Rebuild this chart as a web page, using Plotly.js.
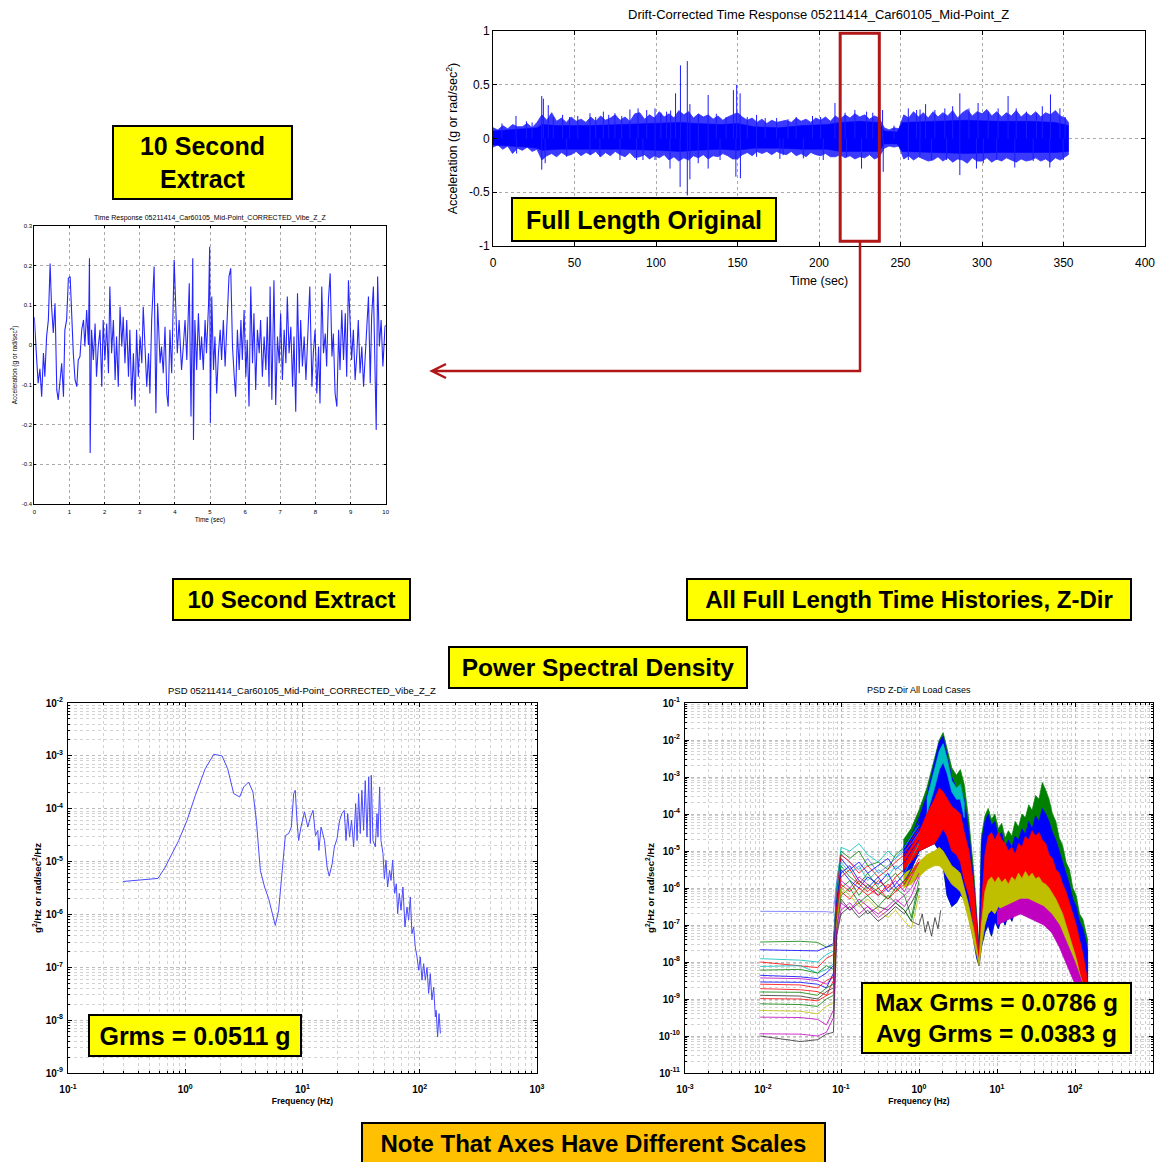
<!DOCTYPE html>
<html><head><meta charset="utf-8">
<script src="https://cdn.plot.ly/plotly-3.0.1.min.js"></script>
<style>body{margin:0;background:#fff}#chart{width:1160px;height:1162px}</style>
</head><body><div id="chart"></div>
<script>
// ---------- Full length time response (envelope) ----------
const coreT    = [0,10,20,27,30,40,60,80,100,115,125,140,150,160,175,190,205,213,225,237,240,248,251,270,290,310,330,345,353];
const coreUp   = [0.07,0.08,0.09,0.10,0.13,0.12,0.12,0.13,0.14,0.15,0.14,0.13,0.14,0.11,0.10,0.12,0.13,0.15,0.16,0.15,0.07,0.06,0.15,0.16,0.17,0.16,0.16,0.15,0.12];
const coreLo   = [-0.06,-0.07,-0.08,-0.09,-0.11,-0.10,-0.10,-0.10,-0.11,-0.12,-0.11,-0.10,-0.11,-0.09,-0.09,-0.10,-0.10,-0.12,-0.12,-0.12,-0.05,-0.05,-0.12,-0.13,-0.14,-0.13,-0.13,-0.13,-0.12];
const fringeT  = [0,3,6,9,12,15,18,21,24,27,30,33,36,39,42,45,48,51,54,57,60,63,66,69,72,75,78,81,84,87,90,93,96,99,102,105,108,111,114,117,120,123,126,129,132,135,138,141,144,147,150,153,156,159,162,165,168,171,174,177,180,183,186,189,192,195,198,201,204,207,210,213,216,219,222,225,228,231,234,237,240,243,246,249,252,255,258,261,264,267,270,273,276,279,282,285,288,291,294,297,300,303,306,309,312,315,318,321,324,327,330,333,336,339,342,345,348,351,353];
const fringeUp = [0.10,0.08,0.12,0.09,0.13,0.11,0.11,0.14,0.10,0.15,
                  0.22,0.17,0.24,0.16,0.19,0.15,0.20,0.16,0.18,0.15,
                  0.20,0.16,0.21,0.17,0.19,0.22,0.17,0.20,0.16,0.23,
                  0.24,0.18,0.22,0.19,0.25,0.20,0.23,0.19,0.26,0.22,
                  0.25,0.19,0.23,0.20,0.22,0.18,0.21,0.17,0.20,0.22,
                  0.24,0.20,0.17,0.19,0.15,0.18,0.14,0.17,0.15,0.16,
                  0.17,0.15,0.19,0.16,0.18,0.15,0.19,0.17,0.20,0.16,
                  0.21,0.18,0.22,0.19,0.23,0.20,0.22,0.18,0.21,0.19,
                  0.10,0.08,0.10,0.09,0.22,0.19,0.25,0.20,0.24,0.19,
                  0.25,0.20,0.24,0.21,0.26,0.19,0.24,0.27,0.21,0.25,
                  0.23,0.27,0.21,0.25,0.20,0.24,0.21,0.26,0.20,0.24,
                  0.21,0.25,0.20,0.24,0.22,0.26,0.21,0.19,0.15];
const fringeLo = [-0.08,-0.06,-0.10,-0.07,-0.14,-0.09,-0.11,-0.08,-0.12,-0.10,
                  -0.20,-0.16,-0.14,-0.17,-0.13,-0.16,-0.15,-0.12,-0.16,-0.13,
                  -0.15,-0.12,-0.17,-0.13,-0.16,-0.12,-0.15,-0.17,-0.13,-0.18,
                  -0.17,-0.15,-0.19,-0.16,-0.18,-0.15,-0.20,-0.17,-0.21,-0.18,
                  -0.20,-0.16,-0.18,-0.15,-0.19,-0.16,-0.17,-0.14,-0.16,-0.19,
                  -0.19,-0.15,-0.13,-0.16,-0.12,-0.14,-0.12,-0.15,-0.12,-0.14,
                  -0.15,-0.12,-0.16,-0.14,-0.17,-0.13,-0.15,-0.16,-0.14,-0.17,
                  -0.17,-0.15,-0.18,-0.16,-0.19,-0.17,-0.18,-0.15,-0.19,-0.17,
                  -0.09,-0.07,-0.08,-0.07,-0.19,-0.16,-0.20,-0.17,-0.19,-0.21,
                  -0.20,-0.17,-0.21,-0.18,-0.22,-0.19,-0.20,-0.23,-0.18,-0.21,
                  -0.21,-0.18,-0.22,-0.19,-0.21,-0.18,-0.20,-0.22,-0.19,-0.21,
                  -0.20,-0.18,-0.21,-0.19,-0.22,-0.18,-0.20,-0.17,-0.15];
const spikeUpT = [14.1,29.9,30.9,33.9,42.7,59.5,67.7,74.8,84.0,89.0,94.3,99.4,106.5,112.0,115.0,119.2,120.8,132.0,147.5,149.5,151.6,161.7,174.0,209.8,222.0,229.2,239.0,254.8,259.9,265.4,271.1,277.2,286.4,297.6,303.8,309.9,316.0,327.3,333.4,342.0,347.8];
const spikeUpV = [0.21,0.395,0.37,0.31,0.22,0.235,0.25,0.235,0.27,0.28,0.265,0.28,0.25,0.42,0.68,0.72,0.32,0.405,0.45,0.50,0.42,0.22,0.19,0.33,0.265,0.25,0.265,0.28,0.265,0.32,0.265,0.28,0.42,0.33,0.25,0.28,0.395,0.25,0.235,0.41,0.28];
const spikeDnT = [14.5,29.9,32.0,45.2,59.5,65.6,77.9,88.1,92.0,99.4,108.6,114.8,119.2,120.8,125.9,132.0,139.3,149.0,151.8,161.7,176.0,178.0,190.4,202.6,216.9,226.1,239.4,254.8,261.9,269.0,278.3,286.4,296.6,300.8,309.0,320.1,331.4,341.6,349.8];
const spikeDnV = [-0.14,-0.29,-0.23,-0.17,-0.155,-0.17,-0.2,-0.2,-0.2,-0.2,-0.28,-0.45,-0.53,-0.38,-0.23,-0.28,-0.2,-0.355,-0.37,-0.17,-0.19,-0.155,-0.185,-0.2,-0.17,-0.28,-0.31,-0.2,-0.17,-0.2,-0.2,-0.34,-0.28,-0.23,-0.2,-0.27,-0.21,-0.27,-0.2];
const smallSpikeT = [5.5,20.5,24,37,47,52,63,71,79,103,109,126,137,143,156,167,181,186,196,201,216,233,246,262,282,292,321,337,351];
const smallSpikeV = [0.14,0.16,0.15,0.20,0.20,0.21,0.20,0.22,0.21,0.24,0.26,0.22,0.23,0.20,0.20,0.19,0.18,0.20,0.21,0.20,0.24,0.24,0.12,0.27,0.30,0.28,0.28,0.30,0.20];

// ---------- 10 second extract ----------
const extT = [0.00,0.04,0.07,0.11,0.16,0.21,0.26,0.30,0.35,0.40,0.45,0.49,0.54,0.59,0.64,0.68,0.73,0.78,0.83,0.87,0.92,0.97,1.02,1.06,1.11,1.16,1.21,1.25,1.30,1.35,1.40,1.44,1.49,1.54,1.57,1.59,1.63,1.68,1.73,1.77,1.82,1.87,1.92,1.96,2.01,2.06,2.11,2.15,2.20,2.25,2.30,2.34,2.39,2.44,2.49,2.53,2.58,2.63,2.68,2.72,2.77,2.82,2.87,2.91,2.96,3.01,3.06,3.10,3.15,3.20,3.25,3.29,3.34,3.41,3.46,3.51,3.58,3.62,3.67,3.72,3.77,3.81,3.86,3.91,3.98,4.02,4.07,4.12,4.19,4.24,4.29,4.34,4.41,4.46,4.51,4.53,4.57,4.62,4.67,4.72,4.76,4.81,4.86,4.90,4.96,4.99,5.01,5.05,5.10,5.14,5.19,5.24,5.29,5.33,5.38,5.43,5.48,5.54,5.59,5.64,5.69,5.73,5.78,5.83,5.88,5.92,5.97,6.02,6.06,6.11,6.16,6.21,6.25,6.30,6.35,6.40,6.44,6.49,6.54,6.59,6.63,6.68,6.71,6.76,6.82,6.87,6.92,6.97,7.01,7.06,7.11,7.16,7.20,7.25,7.30,7.35,7.39,7.44,7.49,7.54,7.58,7.63,7.68,7.73,7.77,7.84,7.90,7.94,7.99,8.04,8.09,8.13,8.18,8.23,8.28,8.32,8.37,8.42,8.47,8.51,8.56,8.61,8.66,8.70,8.75,8.80,8.85,8.89,8.94,8.99,9.03,9.08,9.13,9.18,9.22,9.27,9.32,9.37,9.41,9.46,9.51,9.56,9.60,9.65,9.70,9.73,9.77,9.82,9.87,9.92,9.98,10.0];
const extA = [0.07,0.02,-0.04,-0.096,-0.06,-0.13,-0.02,-0.08,0.021,0.063,0.205,0.10,0.03,0.105,-0.113,-0.138,-0.08,-0.046,-0.13,0.038,0.063,0.168,0.172,0.08,-0.021,-0.088,-0.105,-0.038,-0.029,0.038,0.063,-0.004,0.088,0.0,0.218,-0.272,0.038,-0.038,0.054,-0.08,-0.004,0.038,-0.105,0.063,-0.038,0.054,-0.071,0.147,-0.021,0.063,-0.088,0.021,-0.105,0.096,-0.004,0.071,-0.046,0.063,-0.08,0.038,-0.138,-0.021,-0.155,0.038,-0.08,0.021,-0.046,0.096,-0.021,-0.105,-0.021,-0.122,0.063,0.197,-0.172,0.105,-0.046,-0.004,-0.071,0.046,-0.122,-0.155,0.038,-0.071,0.214,0.105,-0.021,0.063,-0.063,-0.004,0.063,-0.038,0.155,-0.18,0.218,-0.239,0.063,-0.063,0.08,-0.038,0.021,-0.063,0.063,-0.021,0.105,0.247,-0.197,0.122,-0.063,0.021,-0.122,-0.021,0.038,-0.038,0.063,-0.054,0.071,0.172,0.193,-0.004,-0.08,-0.13,0.038,-0.063,0.063,-0.038,0.088,-0.08,0.013,-0.155,0.147,-0.046,0.08,-0.113,0.038,-0.021,0.063,-0.08,0.021,-0.063,0.071,-0.105,0.147,-0.138,0.163,-0.151,0.021,-0.046,0.08,-0.088,0.038,-0.046,0.122,-0.021,0.046,-0.105,0.021,-0.168,0.13,-0.071,0.063,-0.054,0.021,-0.088,-0.004,0.147,-0.105,-0.021,0.038,-0.122,-0.004,-0.147,0.147,-0.021,0.029,-0.054,0.113,0.18,-0.029,0.029,-0.122,-0.155,0.038,-0.063,0.088,-0.038,0.08,-0.08,0.163,0.021,-0.038,0.038,-0.088,-0.021,0.063,-0.071,-0.004,-0.105,-0.038,0.063,0.122,-0.096,0.071,0.147,-0.122,-0.214,0.172,-0.004,0.063,-0.054,0.046,0.05];

// ---------- PSD of the extract ----------
const psdF = [0.294,0.586,0.676,0.879,1.035,1.22,1.48,1.75,2.06,2.30,2.59,2.91,3.15,3.47,3.78,4.04,4.37,4.75,5.14,5.49,5.86,6.26,6.69,7.14,7.63,8.03,8.41,8.68,8.97,9.27,9.70,10.4,11.1,11.7,12.3,12.9,13.5,13.8,14.4,15.4,16.2,16.9,17.9,18.7,19.7,20.7,21.7,22.7,23.5,24.3,25.2,26.2,27.3,28.4,29.2,30.1,31.1,32.1,33.2,34.3,35.5,36.7,37.9,38.6,39.9,41.8,43.2,44.0,45.5,46.7,48.6,49.9,51.5,53.2,55.3,56.9,58.7,61.1,63.1,64.8,66.9,69.2,71.9,74.8,77.8,80.4,83.1,85.8,88.7,91.6,94.8,97.9,101,104.5,108,111.6,115.3,119,123,127,131.5,135.8,138,142,146,150];
const psdP = [4.2e-6,4.8e-6,7.9e-6,2.5e-5,6.0e-5,1.79e-4,5.7e-4,1.07e-3,1.0e-3,5.7e-4,1.93e-4,1.67e-4,2.58e-4,3.2e-4,2.07e-4,6.0e-5,6.8e-6,3.3e-6,2.0e-6,1.03e-6,6.2e-7,1.2e-6,6.8e-6,3.1e-5,3.4e-5,4.5e-5,1.93e-4,2.23e-4,6.0e-5,2.5e-5,4.5e-5,8.7e-5,4.5e-5,7.0e-5,9.3e-5,3.1e-5,3.9e-5,1.63e-5,4.5e-5,2.5e-5,7.9e-6,5.3e-6,9.1e-6,1.89e-5,2.7e-5,6.0e-5,8.1e-5,9.3e-5,2.5e-5,8.1e-5,2.9e-5,6.0e-5,1.9e-5,1.25e-4,2.5e-5,1.93e-4,3.4e-5,2.23e-4,3.9e-5,3.4e-4,2.9e-5,4.0e-4,2.2e-5,4.3e-4,2.5e-5,1.9e-5,8.1e-5,2.9e-5,2.58e-4,2.5e-5,1.41e-5,4.75e-6,1.06e-5,3.3e-6,6.8e-6,4.4e-6,1.06e-5,2.5e-6,3.8e-6,1.03e-6,2.5e-6,1.2e-6,3.3e-6,5.8e-7,1.38e-6,7.8e-7,2.14e-6,4.3e-7,5.8e-7,2.4e-7,1.57e-7,8.8e-8,1.57e-7,5.7e-8,1.17e-7,5.7e-8,1.0e-7,3.2e-8,7.6e-8,2.4e-8,4.2e-8,1.15e-8,1.54e-8,4.8e-9,1.33e-8,5.6e-9];

// ---------- PSD all load cases (log10 of PSD) ----------
const lineF = [0.0092,0.03,0.05,0.065,0.08,0.088,0.1,0.13,0.17,0.22,0.3,0.4,0.5,0.65,0.8,1.0];
const lc01 = [-6.63,-6.63,-6.63,-6.64,-6.66,-5.8,-5.1,-5.3,-5.5,-5.2,-5.6,-5.4,-5.2,-5.0,-4.8,-4.5];
const lc02 = [-7.46,-7.44,-7.47,-7.6,-7.55,-6.0,-5.0,-5.2,-5.0,-5.4,-5.3,-5.5,-5.1,-4.9,-4.6,-4.2];
const lc03 = [-7.67,-7.68,-7.7,-7.6,-7.5,-6.1,-5.2,-5.5,-5.3,-5.6,-5.4,-5.2,-5.5,-5.3,-5.0,-4.7];
const lc04 = [-7.91,-7.95,-8.0,-7.8,-7.7,-6.0,-4.9,-5.0,-4.8,-5.1,-5.3,-5.0,-5.2,-4.9,-4.6,-4.3];
const lc05 = [-8.0,-8.1,-8.15,-7.9,-7.8,-6.2,-5.1,-5.3,-5.6,-5.4,-5.7,-5.5,-5.3,-5.1,-4.7,-4.4];
const lc06 = [-8.12,-8.1,-8.3,-8.2,-8.05,-6.3,-5.3,-5.6,-5.4,-5.8,-5.5,-5.7,-5.4,-5.6,-5.2,-4.8];
const lc07 = [-8.22,-8.2,-8.3,-8.1,-8.2,-6.4,-5.4,-5.7,-5.9,-5.6,-6.0,-5.8,-5.6,-5.9,-5.5,-5.0];
const lc08 = [-8.36,-8.4,-8.45,-8.3,-8.1,-6.5,-5.6,-5.4,-5.8,-6.0,-5.7,-6.1,-5.9,-5.6,-5.4,-5.1];
const lc09 = [-8.43,-8.45,-8.5,-8.6,-8.4,-6.6,-5.8,-6.0,-5.7,-5.9,-6.2,-6.0,-5.8,-6.1,-5.7,-5.3];
const lc10 = [-8.54,-8.55,-8.6,-8.7,-8.3,-6.4,-5.5,-5.8,-6.0,-5.7,-5.9,-5.6,-6.0,-5.8,-5.5,-5.0];
const lc11 = [-8.6,-8.62,-8.7,-8.5,-8.4,-6.5,-5.7,-5.5,-5.9,-6.1,-5.8,-6.0,-5.7,-5.5,-5.2,-4.9];
const lc12 = [-8.72,-8.75,-8.8,-8.9,-8.5,-6.6,-5.9,-6.1,-5.8,-6.0,-6.2,-5.9,-6.1,-5.8,-5.6,-5.2];
const lc13 = [-8.81,-8.82,-8.9,-8.7,-8.6,-6.7,-6.0,-5.8,-6.2,-5.9,-6.1,-6.3,-6.0,-6.2,-6.8,-5.8];
const lc14 = [-8.9,-8.92,-9.0,-8.8,-8.7,-7.0,-6.3,-6.6,-6.4,-6.7,-6.5,-6.6,-6.4,-6.6,-6.9,-7.0];
const lc15 = [-8.99,-9.0,-9.05,-8.9,-8.8,-6.8,-6.1,-6.3,-6.0,-6.2,-6.0,-6.3,-6.1,-5.9,-5.6,-5.3];
const lc16 = [-9.13,-9.15,-9.2,-9.0,-8.9,-6.9,-6.2,-6.0,-6.4,-6.2,-6.5,-6.2,-6.4,-6.6,-6.9,-6.0];
const lc17 = [-9.31,-9.33,-9.4,-9.2,-9.1,-7.0,-6.0,-6.2,-6.5,-6.3,-6.6,-6.8,-6.6,-6.9,-7.1,-6.2];
const lc18 = [-9.49,-9.5,-9.55,-9.7,-9.3,-7.1,-6.4,-6.6,-6.3,-6.5,-6.7,-6.5,-6.3,-6.5,-6.2,-5.7];
const lc19 = [-9.94,-9.95,-10.0,-9.9,-9.5,-7.2,-6.6,-6.4,-6.7,-6.5,-6.8,-6.6,-6.4,-6.2,-6.0,-5.6];
const lc20 = [-10.0,-10.15,-10.1,-9.95,-9.9,-7.3,-6.7,-6.5,-6.8,-6.6,-6.9,-6.7,-6.5,-6.7,-6.4,-6.0];
const blackTailF = [1.0,1.1,1.2,1.3,1.45,1.6,1.75,1.9];
const blackTailP = [-7.0,-6.7,-7.2,-6.9,-7.3,-6.8,-7.1,-6.6];

const bandF     = [0.63,0.79,1.0,1.26,1.58,1.82,2.04,2.29,2.63,3.02,3.39,3.8,4.37,5.01,5.5,5.89,
                   6.31,7.0,7.7,8.5,9.4,10.4,11.5,12.7,14.0,15.5,17.1,18.9,20.9,23.1,25.5,28.2,31.2,34.5,38.1,42.1,46.5,51.4,56.8,62.8,69.4,76.7,84.8,93.7,103.5,114.4,126.4,139.7,145];
const greenTop  = [-4.7,-4.4,-3.9,-3.3,-2.5,-2.0,-1.8,-2.2,-2.75,-2.95,-2.8,-3.2,-4.2,-5.5,-6.8,-7.6,
                   -4.6,-4.05,-3.85,-4.15,-4.0,-4.4,-4.25,-4.65,-4.45,-4.6,-4.2,-4.35,-4.0,-4.1,-3.75,-3.9,-3.5,-3.6,-3.15,-3.35,-3.6,-4.0,-4.2,-4.65,-4.85,-5.3,-5.5,-6.0,-6.2,-6.7,-6.85,-7.2,-7.4];
const blueTop   = [-4.9,-4.6,-4.1,-3.5,-2.6,-2.05,-1.9,-2.4,-3.0,-3.3,-3.3,-3.6,-4.5,-5.8,-7.0,-7.7,
                   -4.8,-4.2,-4.0,-4.3,-4.2,-4.6,-4.5,-4.9,-4.7,-4.9,-4.6,-4.7,-4.4,-4.55,-4.2,-4.4,-4.05,-4.2,-3.85,-4.0,-4.2,-4.5,-4.7,-5.0,-5.3,-5.6,-5.9,-6.3,-6.5,-6.9,-7.1,-7.5,-7.7];
const blueBot   = [-5.6,-5.5,-5.0,-4.9,-4.8,-5.0,-5.4,-6.2,-6.5,-6.4,-6.2,-6.3,-6.8,-7.4,-7.9,-8.1,
                   -7.6,-7.2,-7.0,-7.3,-6.9,-7.1,-6.8,-7.0,-6.7,-6.9,-6.6,-6.5,-6.3,-6.4,-6.2,-6.3,-6.1,-6.2,-6.1,-6.3,-6.3,-6.5,-6.6,-6.8,-7.0,-7.3,-7.5,-7.8,-8.0,-8.3,-8.5,-8.7,-8.8];
const cyanF     = [1.26,1.58,1.82,2.04,2.29,2.63,3.02,3.39,3.8];
const cyanTop   = [-3.6,-2.8,-2.3,-2.1,-2.5,-3.1,-3.3,-3.2,-3.7];
const cyanBot   = [-4.0,-3.3,-2.8,-2.6,-2.9,-3.4,-3.6,-3.6,-4.1];
const redTop    = [-5.2,-4.9,-4.5,-4.0,-3.6,-3.3,-3.4,-3.6,-3.8,-3.9,-4.0,-4.5,-5.0,-5.9,-7.0,-7.8,
                   -6.5,-5.1,-4.6,-4.5,-4.7,-4.5,-4.7,-4.8,-5.0,-4.9,-5.1,-4.8,-4.9,-4.6,-4.7,-4.45,-4.6,-4.5,-4.7,-4.8,-5.1,-5.2,-5.5,-5.6,-5.9,-6.1,-6.4,-6.7,-7.0,-7.4,-7.8,-8.3,-8.6];
const redBot    = [-5.5,-5.3,-5.0,-4.9,-4.8,-4.6,-4.4,-4.6,-5.0,-5.1,-5.3,-5.8,-6.2,-7.0,-7.7,-8.0,
                   -7.3,-6.4,-6.1,-6.0,-6.1,-5.9,-6.0,-5.9,-6.1,-6.0,-6.1,-5.9,-6.0,-5.9,-6.0,-6.0,-6.1,-6.0,-6.2,-6.2,-6.3,-6.4,-6.5,-6.7,-6.9,-7.1,-7.4,-7.7,-8.0,-8.4,-8.7,-9.1,-9.2];
const yellowTop = [-5.6,-5.5,-5.3,-5.1,-5.0,-4.9,-5.0,-5.2,-5.4,-5.5,-5.6,-6.0,-6.5,-7.1,-7.6,-8.0,
                   -7.0,-6.1,-5.8,-5.7,-5.85,-5.7,-5.85,-5.75,-5.9,-5.7,-5.8,-5.6,-5.75,-5.55,-5.7,-5.6,-5.75,-5.7,-5.85,-5.9,-6.0,-6.15,-6.3,-6.5,-6.7,-7.0,-7.3,-7.6,-7.9,-8.3,-8.6,-8.9,-9.0];
const yellowBot = [-6.0,-5.9,-5.7,-5.5,-5.4,-5.4,-5.5,-5.7,-5.9,-6.0,-6.1,-6.4,-6.9,-7.4,-7.8,-8.1,
                   -7.6,-7.0,-6.7,-6.6,-6.7,-6.5,-6.6,-6.5,-6.6,-6.4,-6.5,-6.4,-6.5,-6.4,-6.5,-6.4,-6.5,-6.5,-6.6,-6.7,-6.8,-6.9,-7.1,-7.3,-7.5,-7.8,-8.0,-8.3,-8.5,-8.8,-9.0,-9.2,-9.2];
const magF      = [10,12.6,15.8,20,25.1,31.6,39.8,50.1,63.1,79.4,100,126,145];
const magTop    = [-6.6,-6.5,-6.4,-6.3,-6.3,-6.4,-6.5,-6.7,-7.0,-7.5,-8.0,-8.6,-9.0];
const magBot    = [-7.0,-6.9,-6.8,-6.7,-6.8,-6.9,-7.0,-7.2,-7.6,-8.1,-8.6,-9.1,-9.3];

// ---------- tick labels ----------
const fullXTicks = [0,50,100,150,200,250,300,350,400];
const fullYTicks = [-1,-0.5,0,0.5,1];
const fullYText  = ['-1','-0.5','0','0.5','1'];
const extXTicks  = [0,1,2,3,4,5,6,7,8,9,10];
const extYTicks  = [-0.4,-0.3,-0.2,-0.1,0,0.1,0.2,0.3];
const extYText   = ['-0.4','-0.3','-0.2','-0.1','0','0.1','0.2','0.3'];

// ---------- helpers ----------
const W = 1160, H = 1162;
const px = x => x / W, py = y => 1 - y / H;
const p10 = v => Math.pow(10, v);
const FONT = 'Liberation Sans, Arial, Helvetica, sans-serif';
const decTicks = (a, b) => { const v = [], t = []; for (let d = a; d <= b; d++) { v.push(p10(d)); t.push('10<sup>' + d + '</sup>'); } return {v, t}; };
const minorVals = (a, b) => { const v = []; for (let d = a; d < b; d++) for (let m = 2; m <= 9; m++) v.push(m * p10(d)); return v; };
const stems = (t, v) => { const x = [], y = []; t.forEach((ti, i) => { x.push(ti, ti, null); y.push(0, v[i], null); }); return {x, y}; };
const poly = (x, top, bot) => ({x: x.concat(x.slice().reverse()), y: top.concat(bot.slice().reverse())});

const traces = [];
// full length
const fr = poly(fringeT, fringeUp, fringeLo);
traces.push({x: fr.x, y: fr.y, fill: 'toself', fillcolor: '#3a3aff', mode: 'lines', line: {width: 0.8, color: '#3030ff'}, xaxis: 'x', yaxis: 'y', hoverinfo: 'skip'});
const co = poly(coreT, coreUp, coreLo);
traces.push({x: co.x, y: co.y, fill: 'toself', fillcolor: '#0000ff', mode: 'lines', line: {width: 0.5, color: '#0000ff'}, xaxis: 'x', yaxis: 'y', hoverinfo: 'skip'});
[stems(spikeUpT, spikeUpV), stems(spikeDnT, spikeDnV), stems(smallSpikeT, smallSpikeV)].forEach(s => {
  traces.push({x: s.x, y: s.y, mode: 'lines', line: {width: 1, color: '#1a1aff'}, xaxis: 'x', yaxis: 'y', hoverinfo: 'skip'});
});
// extract
traces.push({x: extT, y: extA, mode: 'lines', line: {width: 1.1, color: 'rgba(0,0,255,0.85)'}, xaxis: 'x2', yaxis: 'y2'});
// psd single
traces.push({x: psdF, y: psdP, mode: 'lines', line: {width: 1, color: '#4a4aff'}, xaxis: 'x3', yaxis: 'y3'});
// psd all: bands
const band = (f, top, bot, color) => { const b = poly(f, top.map(p10), bot.map(p10)); return {x: b.x, y: b.y, fill: 'toself', fillcolor: color, mode: 'lines', line: {width: 0.7, color}, xaxis: 'x4', yaxis: 'y4', hoverinfo: 'skip'}; };
traces.push(band(bandF, greenTop, blueBot, '#008000'));
traces.push(band(bandF, blueTop, blueBot, '#0000ff'));
traces.push(band(cyanF, cyanTop, cyanBot, '#00bfbf'));
traces.push(band(bandF, redTop, redBot, '#ff0000'));
traces.push(band(bandF, yellowTop, yellowBot, '#bfbf00'));
traces.push(band(magF, magTop, magBot, '#bf00bf'));
// psd all: individual load case lines
const cases = [lc01,lc02,lc03,lc04,lc05,lc06,lc07,lc08,lc09,lc10,lc11,lc12,lc13,lc14,lc15,lc16,lc17,lc18,lc19,lc20];
const caseColors = ['#6b6bff','#008000','#0000ff','#00bfbf','#ff0000','#00bfbf','#008000','#0000ff','#bf00bf','#0000ff','#ff0000','#ff0000','#008000','#303030','#ff0000','#008000','#bfbf00','#bf00bf','#bf00bf','#303030'];
cases.forEach((c, i) => traces.push({x: lineF, y: c.map(p10), mode: 'lines', line: {width: 0.8, color: caseColors[i]}, xaxis: 'x4', yaxis: 'y4', hoverinfo: 'skip'}));
traces.push({x: blackTailF, y: blackTailP.map(p10), mode: 'lines', line: {width: 0.8, color: '#303030'}, xaxis: 'x4', yaxis: 'y4', hoverinfo: 'skip'});

// ---------- axes ----------
const base = {showline: true, linecolor: '#000', linewidth: 1, mirror: 'ticks', ticks: 'inside', ticklen: 4, tickcolor: '#000',
  zeroline: false, showgrid: true, gridcolor: '#aaaaaa', griddash: 'dot', gridwidth: 1, fixedrange: true, automargin: false};
const lx3 = decTicks(-1, 3), ly3 = decTicks(-9, -2), lx4 = decTicks(-3, 3), ly4 = decTicks(-11, -1);
const minorStyle = (a, b) => ({tickvals: minorVals(a, b), showgrid: true, gridcolor: '#d2d2d2', griddash: 'dot', ticks: 'inside', ticklen: 2, tickcolor: '#000'});
const psdTickFont = {family: FONT, size: 10, color: '#000', weight: 'bold'};
const psdTitleFont = {family: FONT, size: 8.5, color: '#000', weight: 'bold'};
const psdYTitleFont = {family: FONT, size: 9.5, color: '#000', weight: 'bold'};

const layout = {
  width: W, height: H, margin: {l: 0, r: 0, t: 0, b: 0}, paper_bgcolor: '#fff', plot_bgcolor: '#fff', showlegend: false,
  font: {family: FONT, color: '#000'},
  xaxis: Object.assign({}, base, {domain: [px(493), px(1145)], anchor: 'y', range: [0, 400], tickmode: 'array', tickvals: fullXTicks, ticklabelstandoff: 6,
    tickfont: {size: 12}, title: {text: 'Time (sec)', font: {size: 12.5}, standoff: 6}}),
  yaxis: Object.assign({}, base, {domain: [py(246), py(31)], anchor: 'x', range: [-1, 1], tickmode: 'array', tickvals: fullYTicks, ticktext: fullYText,
    tickfont: {size: 12}, title: {text: 'Acceleration (g or rad/sec<sup>2</sup>)', font: {size: 12.5}, standoff: 8}}),
  xaxis2: Object.assign({}, base, {domain: [px(34.3), px(385.7)], anchor: 'y2', range: [0, 10], tickmode: 'array', tickvals: extXTicks, ticklen: 2, ticklabelstandoff: 2,
    tickfont: {size: 6}, title: {text: 'Time (sec)', font: {size: 6.5}, standoff: 3}}),
  yaxis2: Object.assign({}, base, {domain: [py(504), py(225.7)], anchor: 'x2', range: [-0.4, 0.3], tickmode: 'array', tickvals: extYTicks, ticktext: extYText, ticklen: 2,
    tickfont: {size: 6}, title: {text: 'Acceleration (g or rad/sec<sup>2</sup>)', font: {size: 6.5}, standoff: 3}}),
  xaxis3: Object.assign({}, base, {type: 'log', domain: [px(68), px(537)], anchor: 'y3', range: [-1, 3], tickmode: 'array', tickvals: lx3.v, ticktext: lx3.t, ticklabelstandoff: 7,
    tickfont: psdTickFont, gridcolor: '#bcbcbc', minor: minorStyle(-1, 3), title: {text: 'Frequency (Hz)', font: psdTitleFont, standoff: 4}}),
  yaxis3: Object.assign({}, base, {type: 'log', domain: [py(1073), py(703)], anchor: 'x3', range: [-9, -2], tickmode: 'array', tickvals: ly3.v, ticktext: ly3.t, ticklabelstandoff: 2,
    tickfont: psdTickFont, gridcolor: '#bcbcbc', minor: minorStyle(-9, -2), title: {text: 'g<sup>2</sup>/Hz or rad/sec<sup>2</sup>/Hz', font: psdYTitleFont, standoff: 2}}),
  xaxis4: Object.assign({}, base, {type: 'log', domain: [px(685), px(1153)], anchor: 'y4', range: [-3, 3], tickmode: 'array', tickvals: lx4.v, ticktext: lx4.t, ticklabelstandoff: 7,
    tickfont: psdTickFont, gridcolor: '#bcbcbc', minor: minorStyle(-3, 3), title: {text: 'Frequency (Hz)', font: psdTitleFont, standoff: 4}}),
  yaxis4: Object.assign({}, base, {type: 'log', domain: [py(1073), py(703)], anchor: 'x4', range: [-11, -1], tickmode: 'array', tickvals: ly4.v, ticktext: ly4.t, ticklabelstandoff: 2,
    tickfont: psdTickFont, gridcolor: '#bcbcbc', minor: minorStyle(-11, -1), title: {text: 'g<sup>2</sup>/Hz or rad/sec<sup>2</sup>/Hz', font: psdYTitleFont, standoff: 2}}),
  shapes: [
    {type: 'rect', xref: 'x', yref: 'y', x0: 213, x1: 237, y0: -0.955, y1: 0.98, line: {color: '#b01818', width: 3}},
    {type: 'path', xref: 'paper', yref: 'paper', line: {color: '#b01818', width: 2.5},
     path: `M ${px(860)},${py(241)} L ${px(860)},${py(371)} L ${px(432)},${py(371)} M ${px(446)},${py(364)} L ${px(432)},${py(371)} L ${px(446)},${py(378)}`}
  ],
  annotations: []
};

// plot titles
const titles = [
  ['Drift-Corrected Time Response 05211414_Car60105_Mid-Point_Z', 818, 15, 13],
  ['Time Response 05211414_Car60105_Mid-Point_CORRECTED_Vibe_Z_Z', 210, 218, 7],
  ['PSD 05211414_Car60105_Mid-Point_CORRECTED_Vibe_Z_Z', 302, 690, 9.5],
  ['PSD Z-Dir All Load Cases', 919, 690, 9]
];
titles.forEach(t => layout.annotations.push({text: t[0], x: px(t[1]), y: py(t[2]), xref: 'paper', yref: 'paper', xanchor: 'center', yanchor: 'middle',
  showarrow: false, font: {family: FONT, size: t[3], color: '#000'}}));

// yellow call-out boxes: [text, cx, cy, w, h, size, colour]
const boxes = [
  ['10 Second<br>Extract', 202.5, 162.5, 181, 75, 25, '#ffff00'],
  ['Full Length Original', 644, 219.5, 266, 45, 25, '#ffff00'],
  ['10 Second Extract', 291.5, 599.5, 239, 43, 24, '#ffff00'],
  ['All Full Length Time Histories, Z-Dir', 909, 599.5, 446, 43, 24, '#ffff00'],
  ['Power Spectral Density', 598, 667.5, 300, 43, 24.5, '#ffff00'],
  ['Grms = 0.0511 g', 195, 1035.5, 214, 43, 25, '#ffff00'],
  ['Max Grms = 0.0786 g<br>Avg Grms = 0.0383 g', 996.5, 1018, 271, 72, 24.5, '#ffff00'],
  ['Note That Axes Have Different Scales', 593.5, 1143, 465, 42, 24, '#ffc000']
];
boxes.forEach(b => layout.annotations.push({text: '<b>' + b[0] + '</b>', x: px(b[1]), y: py(b[2]), xref: 'paper', yref: 'paper',
  xanchor: 'center', yanchor: 'middle', showarrow: false, width: b[3] - 4, height: b[4] - 4, align: 'center', valign: 'middle',
  bgcolor: b[6], bordercolor: '#000', borderwidth: 2, borderpad: 0, font: {family: FONT, size: b[5], color: '#000'}}));

Plotly.newPlot('chart', traces, layout, {displayModeBar: false, staticPlot: true});
</script></body></html>
